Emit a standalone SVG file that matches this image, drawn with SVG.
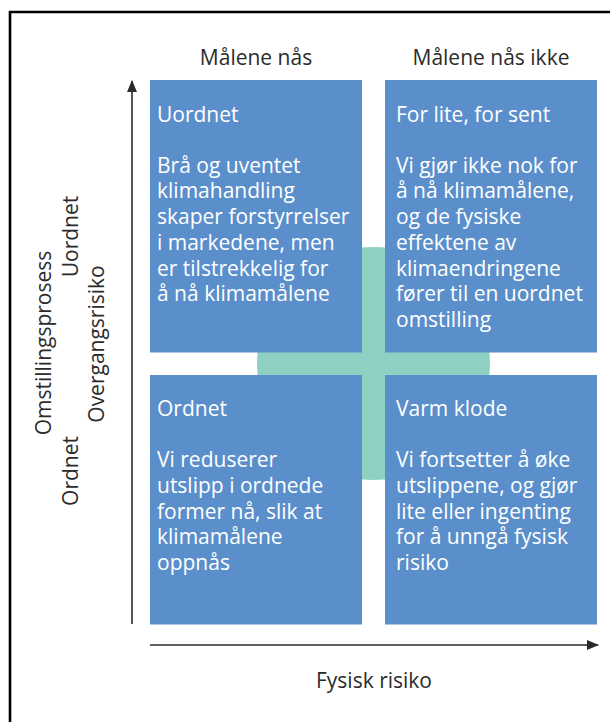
<svg xmlns="http://www.w3.org/2000/svg" width="610" height="722" viewBox="0 0 610 722">
<style>
.lbl{font-family:"Open Sans","Noto Sans","DejaVu Sans",sans-serif;font-size:21px;fill:#2b2b2b}
.box{fill:#5a8fcb}
.bt{font-family:"Open Sans","Noto Sans","DejaVu Sans",sans-serif;font-size:21px;fill:#ffffff}
.ax{stroke:#2b2b2b;stroke-width:1.6;fill:none}
</style>
<defs>
<marker id="ah" viewBox="0 0 12 10" refX="11" refY="5" markerWidth="12" markerHeight="10" markerUnits="userSpaceOnUse" orient="auto">
<path d="M0,0 L12,5 L0,10 Z" fill="#2b2b2b"/>
</marker>
</defs>
<rect width="610" height="722" fill="#ffffff"/>
<path d="M10,722 V12 H610" fill="none" stroke="#000" stroke-width="2.6"/>
<circle id="cross" cx="373.5" cy="363.5" r="116.5" fill="#8ed0c2"/>
<g id="header-left"><text class="lbl" x="256" y="65" text-anchor="middle">Målene nås</text></g>
<g id="header-right"><text class="lbl" x="491" y="65" text-anchor="middle">Målene nås ikke</text></g>
<g id="q-uordnet">
<rect class="box" x="150" y="80" width="212" height="272.5"/>
<text class="bt" x="157" y="122">Uordnet</text>
<text class="bt" x="157" y="172.7">Brå og uventet</text>
<text class="bt" x="157" y="198.4">klimahandling</text>
<text class="bt" x="157" y="224.1">skaper forstyrrelser</text>
<text class="bt" x="157" y="249.8">i markedene, men</text>
<text class="bt" x="157" y="275.5">er tilstrekkelig for</text>
<text class="bt" x="157" y="301.2">å nå klimamålene</text>
</g>
<g id="q-forsent">
<rect class="box" x="385" y="80" width="212" height="272.5"/>
<text class="bt" x="396" y="122">For lite, for sent</text>
<text class="bt" x="396" y="172.7">Vi gjør ikke nok for</text>
<text class="bt" x="396" y="198.4">å nå klimamålene,</text>
<text class="bt" x="396" y="224.1">og de fysiske</text>
<text class="bt" x="396" y="249.8">effektene av</text>
<text class="bt" x="396" y="275.5">klimaendringene</text>
<text class="bt" x="396" y="301.2">fører til en uordnet</text>
<text class="bt" x="396" y="326.9">omstilling</text>
</g>
<g id="q-ordnet">
<rect class="box" x="150" y="375" width="212" height="249.5"/>
<text class="bt" x="157" y="415.7">Ordnet</text>
<text class="bt" x="157" y="467.2">Vi reduserer</text>
<text class="bt" x="157" y="492.9">utslipp i ordnede</text>
<text class="bt" x="157" y="518.6">former nå, slik at</text>
<text class="bt" x="157" y="544.3">klimamålene</text>
<text class="bt" x="157" y="570">oppnås</text>
</g>
<g id="q-varm">
<rect class="box" x="385" y="375" width="212" height="249.5"/>
<text class="bt" x="396" y="415.7">Varm klode</text>
<text class="bt" x="396" y="467.2">Vi fortsetter å øke</text>
<text class="bt" x="396" y="492.9">utslippene, og gjør</text>
<text class="bt" x="396" y="518.6">lite eller ingenting</text>
<text class="bt" x="396" y="544.3">for å unngå fysisk</text>
<text class="bt" x="396" y="570">risiko</text>
</g>
<g id="connectors">
<line class="ax" x1="132" y1="624" x2="132" y2="81" marker-end="url(#ah)"/>
<line class="ax" x1="150" y1="645" x2="598" y2="645" marker-end="url(#ah)"/>
</g>
<g id="y-axis-labels">
<text class="lbl" transform="translate(50.5,343) rotate(-90)" text-anchor="middle">Omstillingsprosess</text>
<text class="lbl" transform="translate(78,471) rotate(-90)" text-anchor="middle">Ordnet</text>
<text class="lbl" transform="translate(78,236.5) rotate(-90)" text-anchor="middle">Uordnet</text>
<text class="lbl" transform="translate(104,344) rotate(-90)" text-anchor="middle">Overgangsrisiko</text>
</g>
<g id="x-axis-label"><text class="lbl" x="374" y="688" text-anchor="middle">Fysisk risiko</text></g>
</svg>
